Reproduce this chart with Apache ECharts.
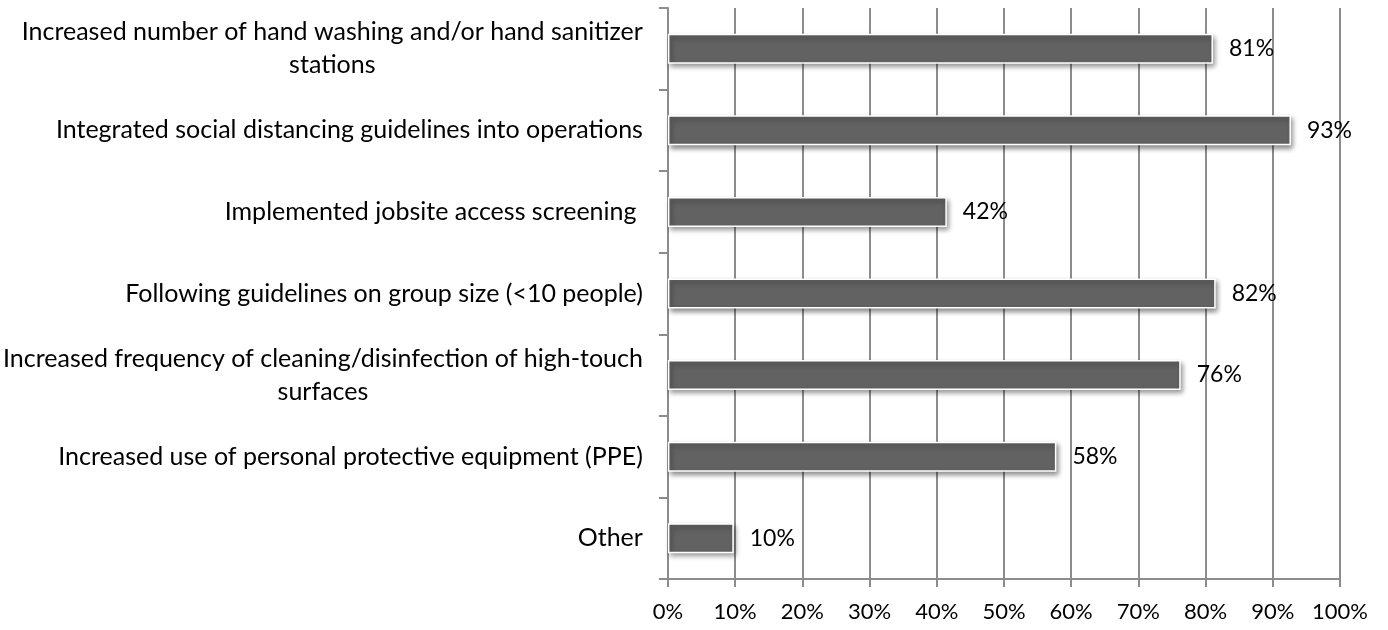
<!DOCTYPE html>
<html>
<head>
<meta charset="utf-8">
<title>Jobsite safety measures</title>
<script src="https://cdn.jsdelivr.net/npm/echarts@6/dist/echarts.min.js"></script>
<style>
    html, body { margin: 0; padding: 0; background: #ffffff; }
    #chart { width: 1388px; height: 630px; }
</style>
</head>
<body>
<div id="chart"></div>
<script>
// 类别（从上到下）
const categories = [
    'Increased number of hand washing and/or hand sanitizer\nstations',
    'Integrated social distancing guidelines into operations',
    'Implemented jobsite access screening ',
    'Following guidelines on group size (<10 people)',
    'Increased frequency of cleaning/disinfection of high-touch\nsurfaces',
    'Increased use of personal protective equipment (PPE)',
    'Other'
];
// 百分比数值
const values = [81.1, 92.7, 41.5, 81.5, 76.3, 57.8, 9.8];
// x 轴刻度标签
const tickLabels = ['0%', '10%', '20%', '30%', '40%', '50%', '60%', '70%', '80%', '90%', '100%'];

const fontFamily = 'Lato, "Liberation Sans", sans-serif';

document.addEventListener('DOMContentLoaded', function() {
    const chart = echarts.init(document.getElementById('chart'));

    const option = {
        animation: false,
        grid: {
            left: 667,
            right: 48,
            top: 8,
            bottom: 51
        },
        xAxis: {
            type: 'value',
            min: 0,
            max: 100,
            interval: 10,
            axisLine: { show: true, lineStyle: { color: '#8c8c8c', width: 2 } },
            axisTick: { show: true, length: 8, lineStyle: { color: '#8c8c8c', width: 2 } },
            splitLine: { show: true, lineStyle: { color: '#8c8c8c', width: 2 } },
            axisLabel: {
                margin: 22,
                fontSize: 22,
                color: '#000000',
                fontFamily: fontFamily,
                formatter: function(v) {
                    return tickLabels[Math.round(v / 10)];
                }
            }
        },
        yAxis: {
            type: 'category',
            data: categories,
            inverse: true,
            axisLine: { show: true, lineStyle: { color: '#8c8c8c', width: 2 } },
            axisTick: { show: true, length: 9, lineStyle: { color: '#8c8c8c', width: 2 } },
            splitLine: { show: false },
            axisLabel: {
                margin: 25,
                fontSize: 25,
                lineHeight: 33,
                color: '#000000',
                fontFamily: fontFamily,
                formatter: function(v) {
                    return v.split('\n').map(function(line) {
                        return '{c|' + line + '}';
                    }).join('\n');
                },
                rich: {
                    c: {
                        align: 'center',
                        fontSize: 25,
                        lineHeight: 33,
                        color: '#000000',
                        fontFamily: fontFamily
                    }
                }
            }
        },
        series: [{
            type: 'bar',
            data: values,
            barWidth: 30,
            itemStyle: {
                color: '#626262',
                borderColor: '#ffffff',
                borderWidth: 1.5,
                shadowColor: 'rgba(0, 0, 0, 0.45)',
                shadowBlur: 5,
                shadowOffsetX: 2,
                shadowOffsetY: 3
            },
            label: {
                show: true,
                position: 'right',
                distance: 16,
                fontSize: 23,
                color: '#000000',
                fontFamily: fontFamily,
                formatter: function(p) {
                    return Math.round(p.value) + '%';
                }
            }
        }]
    };

    chart.setOption(option);
});
</script>
</body>
</html>
